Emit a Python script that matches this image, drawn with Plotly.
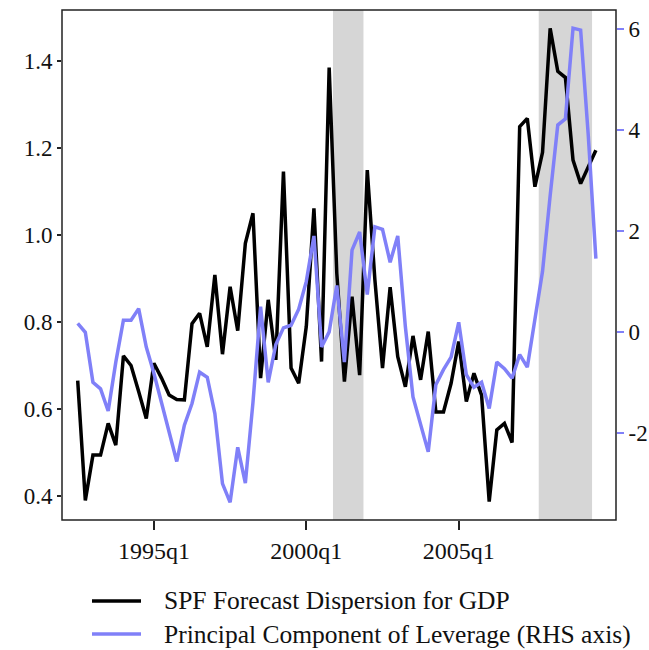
import plotly.graph_objects as go

# Quarterly data, 1992q3 .. 2009q3 (Stata-style quarter index: quarters since 1960q1)
start_q = 130  # 1992q3
spf = [0.665, 0.39, 0.494, 0.494, 0.567, 0.517, 0.722, 0.70, 0.64, 0.578,
       0.705, 0.671, 0.632, 0.622, 0.621, 0.796, 0.820, 0.743, 0.908, 0.726,
       0.881, 0.78, 0.981, 1.05, 0.671, 0.851, 0.713, 1.146, 0.694, 0.659,
       0.79, 1.061, 0.709, 1.385, 0.912, 0.663, 0.858, 0.678, 1.149, 0.897,
       0.694, 0.88, 0.72, 0.651, 0.768, 0.667, 0.778, 0.593, 0.593, 0.659,
       0.755, 0.617, 0.682, 0.632, 0.387, 0.552, 0.567, 0.523, 1.249, 1.268,
       1.111, 1.19, 1.475, 1.376, 1.362, 1.172, 1.118, 1.157, 1.195]
pc = [0.17, -0.01, -1.0, -1.13, -1.57, -0.6, 0.23, 0.23, 0.46, -0.3,
      -0.82, -1.4, -1.99, -2.57, -1.85, -1.42, -0.8, -0.9, -1.62, -3.01,
      -3.38, -2.29, -3.0, -1.4, 0.5, -1.0, -0.25, 0.08, 0.13, 0.45,
      1.0, 1.9, -0.3, 0.0, 0.92, -0.6, 1.62, 1.98, 0.74, 2.08,
      2.03, 1.38, 1.9, 0.1, -1.29, -1.82, -2.38, -1.05, -0.75, -0.5,
      0.19, -0.85, -1.1, -1.0, -1.52, -0.6, -0.73, -0.92, -0.45, -0.7,
      0.2, 1.2, 2.7, 4.1, 4.22, 6.02, 5.98, 3.9, 1.45]
quarters = [start_q + i for i in range(len(spf))]

tick_q = [140, 160, 180]
tick_labels = ["1995q1", "2000q1", "2005q1"]
left_ticks = [0.4, 0.6, 0.8, 1.0, 1.2, 1.4]
left_labels = ["0.4", "0.6", "0.8", "1.0", "1.2", "1.4"]
right_ticks = [-2, 0, 2, 4, 6]
right_labels = ["-2", "0", "2", "4", "6"]
recessions = [(164, 167), (191, 197)]  # 2001q1-2001q4, 2007q4-2009q2

series_names = ["SPF Forecast Dispersion for GDP",
                "Principal Component of Leverage (RHS axis)"]
BLACK = "#000000"
BLUE = "#8080f8"
FONT = "Liberation Serif"

fig = go.Figure()
fig.add_trace(go.Scatter(x=quarters, y=spf, mode="lines",
                         line=dict(color=BLACK, width=3.5), name=series_names[0],
                         showlegend=False, yaxis="y"))
fig.add_trace(go.Scatter(x=quarters, y=pc, mode="lines",
                         line=dict(color=BLUE, width=3.5), name=series_names[1],
                         showlegend=False, yaxis="y2"))

for a, b in recessions:
    fig.add_shape(type="rect", xref="x", yref="paper", x0=a - 0.5, x1=b + 0.5,
                  y0=0, y1=1, fillcolor="#d6d6d6", line=dict(width=0),
                  layer="below")

# frame
fig.add_shape(type="rect", xref="paper", yref="paper", x0=0, x1=1, y0=0, y1=1,
              line=dict(color="#222222", width=1.5), fillcolor="rgba(0,0,0,0)")

# manual legend
W, H = 649, 650
L, R, T, B = 62, 33, 10, 130
pw, ph = W - L - R, H - T - B
def px(xp):
    return (xp - L) / pw
def py(yp):
    return (H - B - yp) / ph
for i, (nm, col) in enumerate(zip(series_names, [BLACK, BLUE])):
    yy = 601 + 33 * i
    fig.add_shape(type="line", xref="paper", yref="paper",
                  x0=px(92), x1=px(141), y0=py(yy), y1=py(yy),
                  line=dict(color=col, width=3.5))
    fig.add_annotation(xref="paper", yref="paper", x=px(162), y=py(yy),
                       text=nm, showarrow=False, xanchor="left",
                       yanchor="middle", font=dict(family=FONT, size=25.5, color="#111"))

fig.update_layout(
    template="none",
    width=W, height=H,
    margin=dict(l=L, r=R, t=T, b=B, pad=0),
    plot_bgcolor="white", paper_bgcolor="white",
    showlegend=False,
    font=dict(family=FONT, size=23, color="#111"),
    xaxis=dict(range=[127.94, 200.64], tickvals=tick_q, ticktext=tick_labels,
               ticks="outside", ticklen=9, tickwidth=1.5, tickcolor="#222",
               tickfont=dict(size=24),
               showgrid=False, zeroline=False, showline=False, automargin=False),
    yaxis=dict(range=[0.3448, 1.5172], tickvals=left_ticks, ticktext=left_labels,
               ticks="outside", ticklen=4, tickwidth=1.5, tickcolor="#222",
               showgrid=False, zeroline=False, showline=False, automargin=False),
    yaxis2=dict(range=[-3.73, 6.38], tickvals=right_ticks, ticktext=right_labels,
                overlaying="y", side="right",
                ticks="outside", ticklen=7, tickwidth=2, tickcolor=BLUE,
                showgrid=False, zeroline=False, showline=False, automargin=False),
)

fig.write_html("out.html")
